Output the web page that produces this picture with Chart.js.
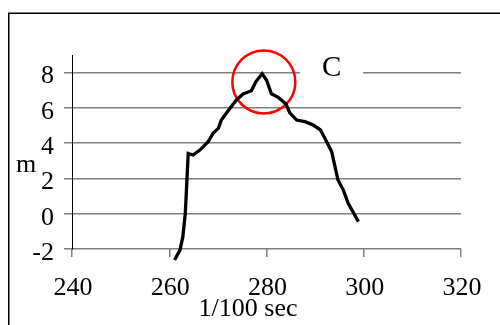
<!DOCTYPE html>
<html>
<head>
<meta charset="utf-8">
<script src="https://cdn.jsdelivr.net/npm/chart.js@4.4.0/dist/chart.umd.min.js"></script>
<style>
  html, body { margin: 0; padding: 0; background: #fff; overflow: hidden; }
  #wrap { position: relative; width: 500px; height: 325px; }
</style>
</head>
<body>
<div id="wrap"><canvas id="c" width="500" height="325"></canvas></div>
<script>
// Axis ticks
const timeTicks = [240, 260, 280, 300, 320];
const heightTicks = [-2, 0, 2, 4, 6, 8];

// Measured trajectory: time (1/100 sec) and height (m)
const time = [261.1, 262.2, 262.8, 263.3, 263.9, 264.9, 266.3, 268.0, 269.0, 270.1,
              270.7, 272.5, 273.8, 275.2, 276.9, 277.8, 279.1, 280.0, 281.0, 282.4,
              284.0, 284.8, 286.2, 287.9, 289.6, 291.1, 292.0, 293.4, 294.7, 295.8,
              296.8, 298.9];
const height = [-2.62, -2.06, -1.30, 0.02, 3.42, 3.33, 3.61, 4.08, 4.56, 4.84,
                5.31, 5.98, 6.45, 6.79, 6.97, 7.48, 7.94, 7.58, 6.80, 6.60,
                6.22, 5.72, 5.31, 5.22, 5.03, 4.75, 4.28, 3.52, 1.91, 1.34,
                0.59, -0.45];

// Highlighted apex and its callout
const peakMarkX = [279.45];
const peakMarkY = [7.47];
const calloutText = 'C';
const calloutX = 293.4;
const calloutY = 8.0;

const chartTitle = 'Trajectory';
const xTitle = '1/100 sec';
const yTitle = 'm';

const SERIF = '"Liberation Serif", "Times New Roman", serif';
const GRID = '#7f7f7f';

const extras = {
  id: 'extras',
  afterDatasetsDraw(chart) {
    const ctx = chart.ctx;
    const xs = chart.scales.x, ys = chart.scales.y;
    ctx.save();
    // callout box with its letter
    const cx = xs.getPixelForValue(calloutX);
    const cy = ys.getPixelForValue(calloutY);
    ctx.fillStyle = '#fff';
    ctx.fillRect(cx - 31.5, cy - 16, 63, 30);
    ctx.fillStyle = '#000';
    ctx.font = '29px ' + SERIF;
    ctx.textAlign = 'center';
    ctx.textBaseline = 'middle';
    ctx.fillText(calloutText, cx, cy - 4);
    ctx.restore();
  },
  afterDraw(chart) {
    const ctx = chart.ctx;
    ctx.save();
    // outer frame
    ctx.strokeStyle = '#000';
    ctx.lineWidth = 1.5;
    ctx.strokeRect(8.75, 13.25, 1000, 1000);
    // title
    ctx.fillStyle = '#000';
    ctx.textAlign = 'center';
    ctx.textBaseline = 'alphabetic';
    ctx.font = 'bold 36px ' + SERIF;
    ctx.fillText(chartTitle, 268, -8);
    // axis titles
    ctx.font = '26px ' + SERIF;
    ctx.fillText(yTitle, 26, 172);
    ctx.fillText(xTitle, 248, 316);
    ctx.restore();
  }
};

new Chart(document.getElementById('c'), {
  data: {
    datasets: [
      {
        type: 'line',
        data: time.map((t, i) => ({ x: t, y: height[i] })),
        borderColor: '#000',
        borderWidth: 3.3,
        pointRadius: 0,
        tension: 0,
        fill: false,
        clip: false
      },
      {
        type: 'scatter',
        data: peakMarkX.map((t, i) => ({ x: t, y: peakMarkY[i] })),
        pointRadius: 31.5,
        pointStyle: 'circle',
        borderColor: '#ff0000',
        borderWidth: 2.5,
        backgroundColor: 'rgba(0,0,0,0)',
        clip: false
      }
    ]
  },
  options: {
    responsive: false,
    animation: false,
    devicePixelRatio: 1,
    events: [],
    layout: { padding: { left: 0, top: 55, right: 39, bottom: 0 } },
    plugins: { legend: { display: false }, tooltip: { enabled: false }, title: { display: false } },
    scales: {
      x: {
        type: 'linear',
        min: 240,
        max: 320,
        afterBuildTicks: s => { s.ticks = timeTicks.map(v => ({ value: v })); },
        afterFit: s => { s.height = 76; },
        grid: { drawOnChartArea: false, drawTicks: true, tickLength: 8, color: GRID, lineWidth: 1.5 },
        border: { display: false },
        ticks: { color: '#000', font: { family: SERIF, size: 26 }, padding: 16, labelOffset: 1, maxRotation: 0 }
      },
      y: {
        type: 'linear',
        min: -2,
        max: 9,
        afterBuildTicks: s => { s.ticks = heightTicks.map(v => ({ value: v })); },
        afterFit: s => { s.width = 72; },
        grid: { drawTicks: true, tickLength: 8, color: GRID, lineWidth: 1.5 },
        border: { display: true, color: '#000', width: 1 },
        ticks: { color: '#000', font: { family: SERIF, size: 26 }, padding: 10, labelOffset: 4 }
      }
    }
  },
  plugins: [extras]
});
</script>
</body>
</html>
